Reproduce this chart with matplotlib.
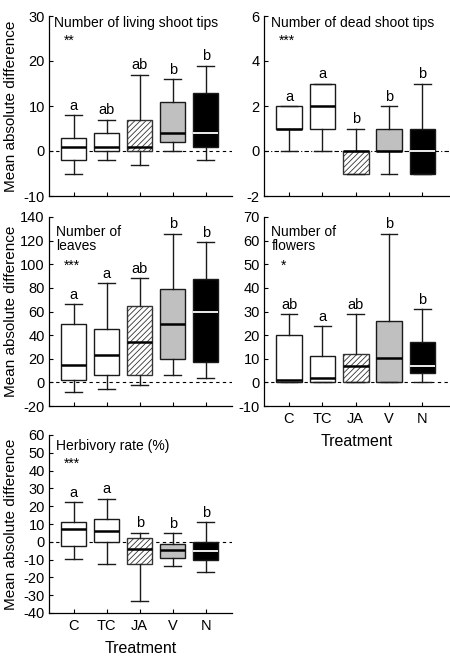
import matplotlib
matplotlib.use("Agg")
import matplotlib.pyplot as plt

plt.rcParams['font.family'] = ['Liberation Sans', 'DejaVu Sans']
plt.rcParams['hatch.linewidth'] = 0.6
plt.rcParams['axes.unicode_minus'] = False

treatments = ['C', 'TC', 'JA', 'V', 'N']
face_colors = ['white', 'white', 'white', '#c0c0c0', 'black']
hatches = [None, None, '//////', None, None]
median_colors = ['black', 'black', 'black', 'black', 'white']

# order of each list: treatments C, TC, JA, V, N
living_low = [-5, -2, -3, 0, -2]
living_q1 = [-2, 0, 0, 2, 1]
living_med = [1, 1, 1, 4, 4]
living_q3 = [3, 4, 7, 11, 13]
living_high = [8, 7, 17, 16, 19]
living_letters = ['a', 'ab', 'ab', 'b', 'b']

dead_low = [0, 0, -1, -1, -1]
dead_q1 = [1, 1, -1, 0, -1]
dead_med = [1, 2, 0, 0, 0]
dead_q3 = [2, 3, 0, 1, 1]
dead_high = [2, 3, 1, 2, 3]
dead_letters = ['a', 'a', 'b', 'b', 'b']

leaves_low = [-8.5, -6, -2.5, 6, 4]
leaves_q1 = [2, 6, 6.5, 20, 17.5]
leaves_med = [14.5, 23, 34, 49, 60]
leaves_q3 = [49, 45, 65, 79, 87.5]
leaves_high = [66, 84, 88, 126, 119]
leaves_letters = ['a', 'a', 'ab', 'b', 'b']

flowers_low = [0, 0, 0, 0, 0]
flowers_q1 = [0, 0, 0, 0, 4]
flowers_med = [1, 2, 7, 10.5, 7]
flowers_q3 = [20, 11, 12, 26, 17]
flowers_high = [29, 24, 29, 63, 31]
flowers_letters = ['ab', 'a', 'ab', 'b', 'b']

herb_low = [-9.5, -12.3, -33, -13.6, -16.8]
herb_q1 = [-2.5, 0, -12.3, -9.3, -10.4]
herb_med = [7, 6.2, -3.8, -4.6, -5]
herb_q3 = [11, 12.7, 2.1, -1, 0]
herb_high = [22.5, 24.3, 5.2, 4.8, 11]
herb_letters = ['a', 'a', 'b', 'b', 'b']

W, H = 450, 657
fig = plt.figure(figsize=(4.5, 6.57), dpi=100)

def axes_px(left, right, top, bottom):
    return fig.add_axes([left / W, 1 - bottom / H, (right - left) / W, (bottom - top) / H])

LC = '#1a1a1a'

def panel(ax, low, q1, med, q3, high, letters, ylim, yticks, title, stars,
          title_xy, stars_xy, xlabels=False, ylabel=False, zero_ls=(0, (3, 3))):
    stats = []
    for i in range(5):
        stats.append(dict(whislo=low[i], q1=q1[i], med=med[i], q3=q3[i], whishi=high[i], fliers=[]))
    pos = list(range(1, 6))
    ax.axhline(0, color='black', lw=0.8, ls=zero_ls, zorder=1)
    res = ax.bxp(stats, positions=pos, widths=0.77, capwidths=0.5, patch_artist=True,
                 showfliers=False,
                 boxprops=dict(edgecolor=LC, linewidth=1.0),
                 whiskerprops=dict(color=LC, linewidth=1.0),
                 capprops=dict(color=LC, linewidth=1.0),
                 medianprops=dict(color='black', linewidth=1.8))
    for i, b in enumerate(res['boxes']):
        b.set_facecolor(face_colors[i])
        b.set_zorder(2)
        if hatches[i]:
            b.set_hatch(hatches[i])
            b.set_edgecolor('#333333')
    for i, m in enumerate(res['medians']):
        m.set_color(median_colors[i])
        m.set_zorder(3)
        if i == 4:
            m.set_linewidth(1.3)
    for i in range(5):
        ax.annotate(letters[i], (pos[i], high[i]), xytext=(0, 1.5), textcoords='offset points',
                    ha='center', va='bottom', fontsize=10.5)
    ax.set_xlim(0.25, 5.8)
    ax.set_ylim(*ylim)
    ax.set_yticks(yticks)
    ax.set_xticks(pos)
    if xlabels:
        ax.set_xticklabels(treatments, fontsize=11)
        ax.set_xlabel('Treatment', fontsize=11.5, labelpad=6)
    else:
        ax.set_xticklabels([])
    if ylabel:
        ax.set_ylabel('Mean absolute difference', fontsize=11)
        ax.yaxis.set_label_coords(-0.17, 0.5)
    for s in ('top', 'right'):
        ax.spines[s].set_visible(False)
    for s in ('left', 'bottom'):
        ax.spines[s].set_linewidth(0.9)
    ax.tick_params(direction='in', length=3, width=0.8, labelsize=10.5, pad=3)
    ax.tick_params(axis='x', pad=4)
    ax.text(title_xy[0], title_xy[1], title, transform=ax.transAxes, ha='left', va='top',
            fontsize=10, linespacing=1.05)
    ax.text(stars_xy[0], stars_xy[1], stars, transform=ax.transAxes, ha='left', va='top',
            fontsize=10)

ax1 = axes_px(49, 232, 16, 196)
panel(ax1, living_low, living_q1, living_med, living_q3, living_high, living_letters,
      (-10, 30), [-10, 0, 10, 20, 30], 'Number of living shoot tips', '**',
      (0.03, 1.0), (0.08, 0.9), ylabel=True)

ax2 = axes_px(264, 449, 16, 196)
panel(ax2, dead_low, dead_q1, dead_med, dead_q3, dead_high, dead_letters,
      (-2, 6), [-2, 0, 2, 4, 6], 'Number of dead shoot tips', '***',
      (0.04, 1.0), (0.08, 0.9), zero_ls=(0, (4, 2, 1, 2)))

ax3 = axes_px(49, 232, 217, 406)
panel(ax3, leaves_low, leaves_q1, leaves_med, leaves_q3, leaves_high, leaves_letters,
      (-20, 140), list(range(-20, 141, 20)), 'Number of\nleaves', '***',
      (0.04, 0.96), (0.08, 0.78), ylabel=True)

ax4 = axes_px(264, 449, 217, 406)
panel(ax4, flowers_low, flowers_q1, flowers_med, flowers_q3, flowers_high, flowers_letters,
      (-10, 70), list(range(-10, 71, 10)), 'Number of\nflowers', '*',
      (0.04, 0.96), (0.09, 0.78), xlabels=True)

ax5 = axes_px(49, 232, 435, 613)
panel(ax5, herb_low, herb_q1, herb_med, herb_q3, herb_high, herb_letters,
      (-40, 60), list(range(-40, 61, 10)), 'Herbivory rate (%)', '***',
      (0.04, 0.98), (0.08, 0.88), xlabels=True, ylabel=True)

fig.savefig('out.png', dpi=100)
